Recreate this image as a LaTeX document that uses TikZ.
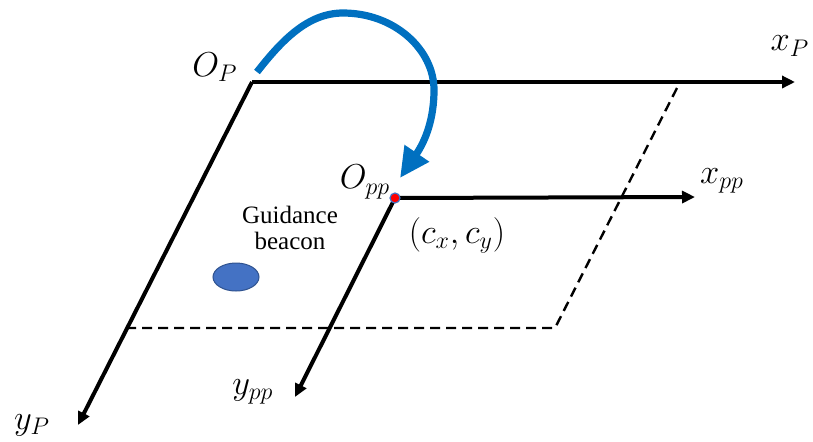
\documentclass[tikz,border=0pt]{standalone}
\usepackage{fontspec}
\setmainfont{Liberation Serif}
\usepackage{amsmath}
\usetikzlibrary{arrows.meta,shapes.geometric}

\definecolor{arcblue}{RGB}{0,112,192}
\definecolor{beaconfill}{RGB}{68,114,196}
\definecolor{beacondraw}{RGB}{47,82,143}

\begin{document}
\begin{tikzpicture}[
    x=0.5pt, y=-0.5pt,
    >={Triangle[length=6.5pt,width=6pt]},
    axis/.style={->, line width=2pt},
    guide/.style={line width=1.2pt, dash pattern=on 5pt off 3pt},
    lab/.style={font=\fontsize{16.5}{18}\selectfont, inner sep=0pt},
    textlab/.style={font=\fontsize{12.5}{13}\selectfont, align=center, inner sep=0pt},
    origin/.style={circle, fill=red, draw=beaconfill, line width=0.6pt, minimum size=5pt, inner sep=0pt}
]
    \useasboundingbox (0,0) rectangle (813,441);

    % frame P
    \coordinate (OP) at (252,82);
    \coordinate (xP) at (795,82);
    \coordinate (yP) at (78,425);
    % far corners of the plane
    \coordinate (c1) at (677,88);
    \coordinate (c2) at (555,328);
    \coordinate (c3) at (127,328);

    \draw[guide] (c1) -- (c2) -- (c3);
    \draw[axis] (OP) -- (xP);
    \draw[axis] (OP) -- (yP);

    % frame pp
    \coordinate (Opp) at (395,198);
    \coordinate (xpp) at (695,197);
    \coordinate (ypp) at (295,397);
    \draw[axis] (Opp) -- (xpp);
    \draw[axis] (Opp) -- (ypp);
    \node[origin] (dot) at (Opp) {};

    % translation arrow
    \coordinate (arcstart) at (257,72);
    \coordinate (arctip) at (400,178);
    \draw[arcblue, line width=3.6pt, -{Triangle[length=15pt,width=14pt]}]
        (arcstart) .. controls (282,40) and (308,13) .. (343,13)
        .. controls (395,13) and (434,50) .. (434,90)
        .. controls (434,118) and (426,140) .. (arctip);

    \node[lab] (lOP) at (215,67) {$O_P$};
    \node[lab] (lxP) at (790,46) {$x_P$};
    \node[lab] (lyP) at (32,425) {$y_P$};
    \node[lab] (lOpp) at (365,182) {$O_{pp}$};
    \node[lab] (lxpp) at (722,181) {$x_{pp}$};
    \node[lab] (lypp) at (253,392) {$y_{pp}$};
    \node[lab] (lc) at (457,235) {$\left(c_x,c_y\right)$};

    \node[ellipse, fill=beaconfill, draw=beacondraw, line width=0.5pt,
          minimum width=23pt, minimum height=14pt, inner sep=0pt] (beacon) at (236,277) {};
    \node[textlab] (lbeacon) at (290,228) {Guidance\\beacon};
\end{tikzpicture}
\end{document}
